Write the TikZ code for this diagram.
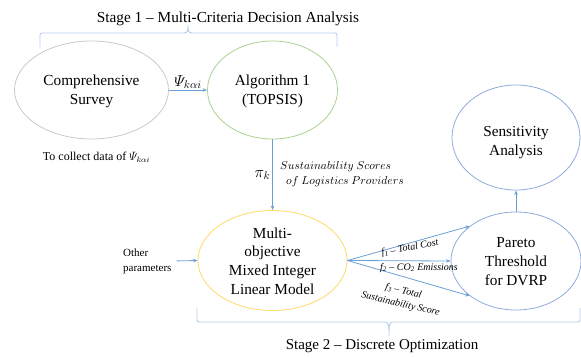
\RequirePackage{fix-cm}
\documentclass[tikz,border=0pt]{standalone}
\usepackage{amsmath}
\usepackage{fontspec}
\setmainfont{Liberation Serif}
\usetikzlibrary{shapes.geometric,arrows.meta}

\definecolor{arrowblue}{HTML}{6A9FD8}
\definecolor{bracecol}{HTML}{B4CDEA}
\definecolor{surveygray}{HTML}{C9C9C9}
\definecolor{topsisgreen}{HTML}{A9D18E}
\definecolor{milpyellow}{HTML}{FFD966}
\definecolor{paretoblue}{HTML}{8FAADC}

\begin{document}
\begin{tikzpicture}[x=1pt,y=-1pt,
  ellip/.style={ellipse, draw, line width=0.8pt, inner sep=0pt},
  bigtxt/.style={font=\fontsize{15.3}{18.7}\selectfont, align=center, inner sep=0pt},
  smalltxt/.style={font=\fontsize{12}{15}\selectfont, inner sep=0pt},
  mathlbl/.style={font=\fontsize{16}{18}\selectfont, inner sep=0pt},
  scorelbl/.style={font=\fontsize{11.5}{14}\selectfont, inner sep=0pt, anchor=west},
  flabel/.style={font=\fontsize{10}{13}\selectfont\itshape, align=center, inner sep=0pt},
  arr/.style={draw=arrowblue, line width=0.8pt, -{Stealth[length=4.5pt,width=3.6pt]}},
  bracket/.style={draw=bracecol, line width=0.9pt}]

\useasboundingbox (0,0) rectangle (581,358);

% stage titles
\node[bigtxt] (stage1) at (228,19) {Stage 1 – Multi-Criteria Decision Analysis};
\node[bigtxt, font=\fontsize{15}{18}\selectfont] (stage2) at (382,346) {Stage 2 – Discrete Optimization};

% ellipses
\node[ellip, draw=surveygray, minimum width=154pt, minimum height=98pt] (survey) at (91.5,90) {};
\node[ellip, draw=topsisgreen, minimum width=130pt, minimum height=98pt] (algo) at (272.5,90) {};
\node[ellip, draw=milpyellow, minimum width=149pt, minimum height=100pt] (milp) at (272.5,260.5) {};
\node[ellip, draw=paretoblue, minimum width=130pt, minimum height=98pt] (pareto) at (516,261) {};
\node[ellip, draw=paretoblue, minimum width=128pt, minimum height=105pt] (sens) at (516,137.5) {};

% ellipse texts
\node[bigtxt] (surveytxt) at (91.5,91) {Comprehensive\\Survey};
\node[bigtxt] (algotxt) at (272.5,91) {Algorithm 1\\(TOPSIS)};
\node[bigtxt] (milptxt) at (272.5,261) {Multi-\\objective\\Mixed Integer\\Linear Model};
\node[bigtxt] (paretotxt) at (516,261.5) {Pareto\\Threshold\\for DVRP};
\node[bigtxt] (senstxt) at (516,142.5) {Sensitivity\\Analysis};

% side texts
\node[smalltxt] (collect) at (96.5,157) {To collect data of $\varPsi_{k\alpha i}$};
\node[smalltxt, font=\fontsize{11}{15}\selectfont, align=left, anchor=west] (other) at (123,261) {Other\\parameters};

% connectors
\draw[arr] (survey) -- (algo) node[mathlbl, midway, above=1pt] (psi) {$\varPsi_{k\alpha i}$};
\draw[arr] (algo) -- (milp);
\draw[arr, shorten <=5pt] (other.east) -- (milp.west);
\draw[arr] (milp.east) -- (pareto.143);
\draw[arr] (milp.east) -- (pareto.west);
\draw[arr] (milp.east) -- (pareto.217);
\draw[arr] (pareto) -- (sens);

% labels on the vertical connector
\node[mathlbl] (pik) at (262.5,175) {$\pi_k$};
\node[scorelbl] (score1) at (280,167) {$Sustainability\ Scores$};
\node[scorelbl] (score2) at (286,182) {$of\ Logistics\ Providers$};

% objective labels
\node[flabel, rotate=11] (f1) at (410,248) {f\textsubscript{1} – Total Cost};
\node[flabel] (f2) at (419,268) {f\textsubscript{2} – CO\textsubscript{2} Emissions};
\node[flabel, rotate=-13] (f3) at (402,298) {f\textsubscript{3} – Total\\Sustainability Score};

% grouping brackets
\draw[bracket] (40,47) -- (40,37) .. controls (40,33) .. (44,33) -- (184,33)
  .. controls (188,33) and (188,30) .. (188,25)
  .. controls (188,30) and (188,33) .. (192,33) -- (333,33)
  .. controls (337,33) .. (337,37) -- (337,47);
\draw[bracket] (197,308) -- (197,318) .. controls (197,322) .. (201,322) -- (385,322)
  .. controls (389,322) and (389,326) .. (389,336)
  .. controls (389,326) and (389,322) .. (393,322) -- (576,322)
  .. controls (580,322) .. (580,318) -- (580,308);
\end{tikzpicture}
\end{document}
